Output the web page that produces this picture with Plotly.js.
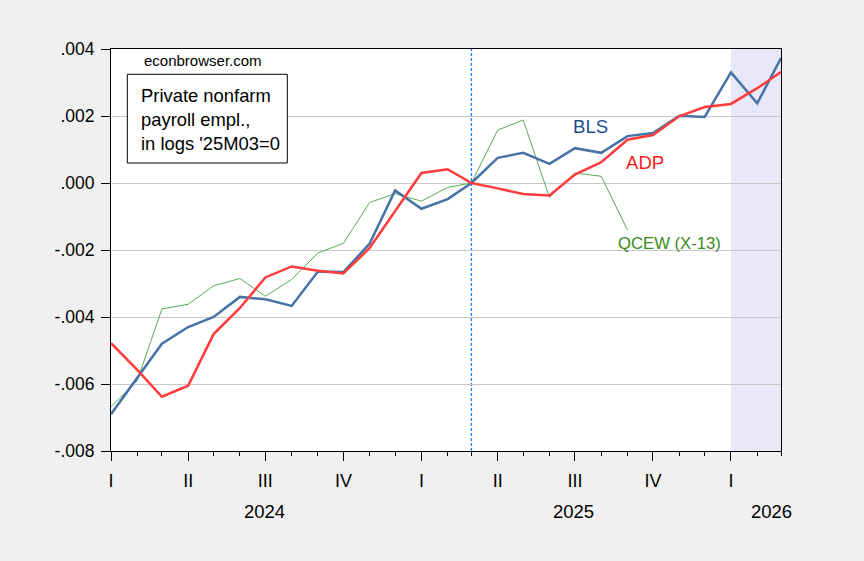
<!DOCTYPE html>
<html>
<head>
<meta charset="utf-8">
<script src="https://cdn.plot.ly/plotly-3.0.1.min.js"></script>
<style>html,body{margin:0;padding:0;background:#f0f0f0;}#chart{width:864px;height:561px;}</style>
</head>
<body>
<div id="chart"></div>
<script>
var months = ['2024-01','2024-02','2024-03','2024-04','2024-05','2024-06','2024-07','2024-08','2024-09','2024-10','2024-11','2024-12',
              '2025-01','2025-02','2025-03','2025-04','2025-05','2025-06','2025-07','2025-08','2025-09','2025-10','2025-11','2025-12',
              '2026-01','2026-02','2026-03'];
var bls = [-0.0069,-0.0058,-0.0048,-0.0043,-0.0040,-0.0034,-0.00347,-0.00367,-0.00264,-0.00266,-0.00181,-0.00022,
           -0.00077,-0.00048,0.0,0.00075,0.0009,0.00057,0.00104,0.0009,0.0014,0.00149,0.00201,0.00197,
           0.0033,0.00238,0.00373];
var adp = [-0.00478,-0.00558,-0.00638,-0.00605,-0.00451,-0.00373,-0.00282,-0.00249,-0.00262,-0.0027,-0.00194,-0.00083,
           0.0003,0.00041,0.0,-0.00016,-0.00033,-0.00037,0.00025,0.00062,0.00129,0.00143,0.00199,0.00227,
           0.00236,0.00283,0.00331];
var qcew = [-0.00668,-0.0059,-0.00376,-0.00362,-0.00307,-0.00285,-0.00338,-0.00288,-0.00209,-0.0018,-0.00058,-0.00032,
            -0.00054,-0.00013,0.0,0.00158,0.00188,-0.00043,0.0003,0.0002,-0.0014,null,null,null,
            null,null,null];
var quarterTicks = ['2024-01-01','2024-04-01','2024-07-01','2024-10-01','2025-01-01','2025-04-01','2025-07-01','2025-10-01','2026-01-01'];
var quarterLabels = ['I','II','III','IV','I','II','III','IV','I'];
var yTicks = [-0.008,-0.006,-0.004,-0.002,0,0.002,0.004];
var yLabels = ['-.008','-.006','-.004','-.002','.000','.002','.004'];
var years = ['2024','2025','2026'];
var yearPos = [0.229,0.6907,0.9861];

var FONT = 'Liberation Sans, Arial, sans-serif';

var traces = [
  {x: months, y: qcew, type: 'scatter', mode: 'lines', line: {color: '#5aaa55', width: 1}, hoverinfo: 'skip'},
  {x: months, y: bls, type: 'scatter', mode: 'lines', line: {color: '#4672a6', width: 2.5}, hoverinfo: 'skip'},
  {x: months, y: adp, type: 'scatter', mode: 'lines', line: {color: '#ff3c3c', width: 2.5}, hoverinfo: 'skip'}
];

var annotations = [
  {xref: 'paper', yref: 'paper', x: 0.1373, y: 0.9726, xanchor: 'center', yanchor: 'middle', showarrow: false,
   text: 'econbrowser.com', font: {family: FONT, size: 15, color: '#000'}},
  {xref: 'paper', yref: 'paper', x: (138.7-111)/670, y: (451-119.3)/402, xanchor: 'left', yanchor: 'middle', align: 'left', showarrow: false,
   text: 'Private nonfarm<br>payroll empl.,<br>in logs \'25M03=0', font: {family: FONT, size: 18.4, color: '#000'}},
  {xref: 'paper', yref: 'paper', x: 0.7164, y: 0.8067, xanchor: 'center', yanchor: 'middle', showarrow: false,
   text: 'BLS', font: {family: FONT, size: 18.6, color: '#1f4e8f'}},
  {xref: 'paper', yref: 'paper', x: 0.7966, y: 0.7172, xanchor: 'center', yanchor: 'middle', showarrow: false,
   text: 'ADP', font: {family: FONT, size: 18.6, color: '#ff1a1a'}},
  {xref: 'paper', yref: 'paper', x: 0.8343, y: 0.5167, xanchor: 'center', yanchor: 'middle', showarrow: false,
   text: 'QCEW (X-13)', font: {family: FONT, size: 16.7, color: '#3a8a22'}}
];
years.forEach(function(yr, i){
  annotations.push({xref: 'paper', yref: 'paper', x: yearPos[i], y: -0.151, xanchor: 'center', yanchor: 'middle', showarrow: false,
    text: yr, font: {family: FONT, size: 18.5, color: '#000'}});
});

var layout = {
  width: 864, height: 561,
  margin: {l: 111, r: 83, t: 49, b: 110, pad: 0},
  paper_bgcolor: '#f0f0f0',
  plot_bgcolor: '#ffffff',
  showlegend: false,
  xaxis: {
    type: 'date',
    range: ['2024-01-01','2026-03-01'],
    tickmode: 'array', tickvals: quarterTicks, ticktext: quarterLabels,
    ticks: 'outside', ticklen: 9, tickwidth: 1, tickcolor: '#000',
    minor: {ticks: 'outside', dtick: 'M1', tick0: '2024-01-01', ticklen: 4, tickwidth: 1, tickcolor: '#000', showgrid: false},
    showgrid: false, zeroline: false,
    showline: true, linecolor: '#000', linewidth: 1, mirror: true,
    tickfont: {family: FONT, size: 18, color: '#000'},
    ticklabelstandoff: 4
  },
  yaxis: {
    range: [-0.008, 0.004],
    tickmode: 'array', tickvals: yTicks, ticktext: yLabels,
    ticks: 'outside', ticklen: 9, tickwidth: 1, tickcolor: '#000',
    showgrid: true, gridcolor: '#c8c8c8', gridwidth: 1, zeroline: false,
    showline: true, linecolor: '#000', linewidth: 1, mirror: true,
    tickfont: {family: FONT, size: 17.5, color: '#000'},
    ticklabelstandoff: 3
  },
  shapes: [
    {type: 'rect', xref: 'x', yref: 'paper', x0: '2026-01-01', x1: '2026-03-01', y0: 0, y1: 1,
     fillcolor: '#e8e8fa', line: {width: 0}, layer: 'below'},
    {type: 'line', xref: 'x', yref: 'paper', x0: '2025-03-01', x1: '2025-03-01', y0: 0, y1: 1,
     line: {color: '#0a84ff', width: 1.3, dash: '3px,2px'}, layer: 'between'},
    {type: 'rect', xref: 'paper', yref: 'paper', x0: (127.3-111)/670, x1: (287.3-111)/670, y0: (451-163)/402, y1: (451-74.3)/402,
     fillcolor: '#ffffff', line: {color: '#000', width: 1}, layer: 'above'}
  ],
  annotations: annotations
};

Plotly.newPlot('chart', traces, layout, {staticPlot: true, displayModeBar: false});
</script>
</body>
</html>
